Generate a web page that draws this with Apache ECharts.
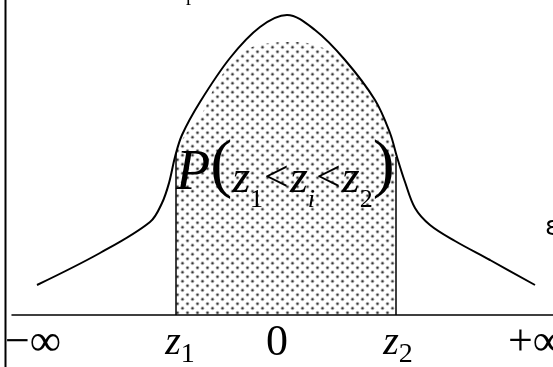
<!DOCTYPE html>
<html>
<head>
<meta charset="utf-8">
<script src="https://cdn.jsdelivr.net/npm/echarts@6/dist/echarts.min.js"></script>
<style>
  html, body { margin: 0; padding: 0; background: #fff; }
  #chart { width: 553px; height: 367px; }
</style>
</head>
<body>
<div id="chart"></div>
<script>
// bell curve: x position, height above the z axis
const curveX = [37, 100, 150, 162, 169, 175, 182, 200, 230, 260, 287, 315, 345, 375, 390, 397, 405, 415, 430, 455, 490, 535];
const curveY = [30, 62, 93, 112, 132, 158, 180, 213, 257, 288, 300, 285, 255, 215, 182, 158, 133, 107, 90, 74, 55, 30];

// dotted area between z1 and z2 (its top is a dome a bit under the curve)
const shadeX = [176, 185, 200, 220, 245, 270, 290, 315, 340, 360, 380, 390, 396];
const shadeY = [162, 180, 198, 237, 264, 272, 273, 270, 257, 236, 205, 182, 158];

// bounds z1, z2 and where their vertical lines stop
const boundX = [176, 396];
const boundTop = [162, 158];

// axis labels
const tickValues = [33, 180, 277, 398, 536];
const tickLabels = ['−∞', '{z|z}{s|1}', '0', '{z|z}{s|2}', '+∞'];

const serif = '"Liberation Serif", "Times New Roman", serif';

function pairs(xs, ys) {
  return xs.map((x, i) => [x, ys[i]]);
}

// dot screen used for the shaded area
const tile = document.createElement('canvas');
tile.width = 10;
tile.height = 9;
const tctx = tile.getContext('2d');
[[2.5, 2.25], [7.5, 6.75]].forEach(function (p) {
  tctx.fillStyle = 'rgba(0,0,0,0.25)';
  tctx.beginPath();
  tctx.arc(p[0], p[1], 1.9, 0, Math.PI * 2);
  tctx.fill();
  tctx.fillStyle = 'rgba(40,40,40,0.9)';
  tctx.beginPath();
  tctx.arc(p[0], p[1], 1.1, 0, Math.PI * 2);
  tctx.fill();
});

const chart = echarts.init(document.getElementById('chart'));

const option = {
  animation: false,
  grid: { left: 12, right: 0, top: 0, bottom: 52, outerBoundsMode: 'none', containLabel: false },
  xAxis: {
    type: 'value',
    min: 12,
    max: 553,
    splitLine: { show: false },
    axisTick: { show: false },
    axisLine: { lineStyle: { color: '#000', width: 1.5 } },
    axisLabel: {
      customValues: tickValues,
      formatter: function (v) {
        return tickLabels[tickValues.indexOf(v)];
      },
      color: '#000',
      fontFamily: serif,
      fontSize: 44,
      margin: 6,
      hideOverlap: false,
      rich: {
        z: { fontFamily: serif, fontStyle: 'italic', fontSize: 40, color: '#000', padding: [0, 0, 4, 0] },
        s: { fontFamily: serif, fontSize: 28, color: '#000', padding: [20, 0, 0, 0] }
      }
    }
  },
  yAxis: {
    type: 'value',
    min: 0,
    max: 315,
    show: false
  },
  series: [
    {
      type: 'line',
      data: pairs(shadeX, shadeY),
      smooth: 0.4,
      symbol: 'none',
      lineStyle: { width: 0 },
      areaStyle: { color: { image: tile, repeat: 'repeat' }, opacity: 1 },
      z: 1
    },
    {
      type: 'line',
      data: pairs(curveX, curveY),
      smooth: 0.35,
      symbol: 'none',
      lineStyle: { color: '#000', width: 2 },
      z: 3
    },
    {
      type: 'line',
      data: [[boundX[0], 0], [boundX[0], boundTop[0]]],
      symbol: 'none',
      lineStyle: { color: '#000', width: 1.5 },
      z: 2
    },
    {
      type: 'line',
      data: [[boundX[1], 0], [boundX[1], boundTop[1]]],
      symbol: 'none',
      lineStyle: { color: '#000', width: 1.5 },
      z: 2
    }
  ],
  graphic: [
    {
      type: 'line',
      shape: { x1: 5.5, y1: 0, x2: 5.5, y2: 367 },
      style: { stroke: '#000', lineWidth: 2 }
    },
    {
      type: 'text',
      x: 176,
      y: 172,
      z: 10,
      style: {
        text: '{P|P}{lp|(}{z|z}{s|1}{lt|<}{z|z}{si|i}{lt|<}{z|z}{s|2}{rp|)}',
        align: 'left',
        verticalAlign: 'middle',
        fill: '#000',
        rich: {
          P: { fontFamily: serif, fontStyle: 'italic', fontSize: 56, padding: [4, 0, 0, 0] },
          lp: { fontFamily: serif, fontSize: 66, padding: [0, 0, 8, 0] },
          rp: { fontFamily: serif, fontSize: 66, padding: [0, 0, 8, 0] },
          z: { fontFamily: serif, fontStyle: 'italic', fontSize: 46, padding: [16, 0, 0, 0] },
          s: { fontFamily: serif, fontSize: 26, padding: [56, 0, 0, 0] },
          si: { fontFamily: serif, fontStyle: 'italic', fontSize: 26, padding: [56, 0, 0, 0] },
          lt: { fontFamily: serif, fontSize: 44, padding: [14, 1, 0, 1] }
        }
      }
    },
    {
      type: 'text',
      x: 186,
      y: -5,
      style: { text: 'p', font: '20px ' + serif, fill: '#000', verticalAlign: 'middle' }
    },
    {
      type: 'text',
      x: 545,
      y: 228,
      style: { text: 'ε', font: '26px "DejaVu Sans", sans-serif', fill: '#000', verticalAlign: 'middle' }
    }
  ]
};

chart.setOption(option);
</script>
</body>
</html>
